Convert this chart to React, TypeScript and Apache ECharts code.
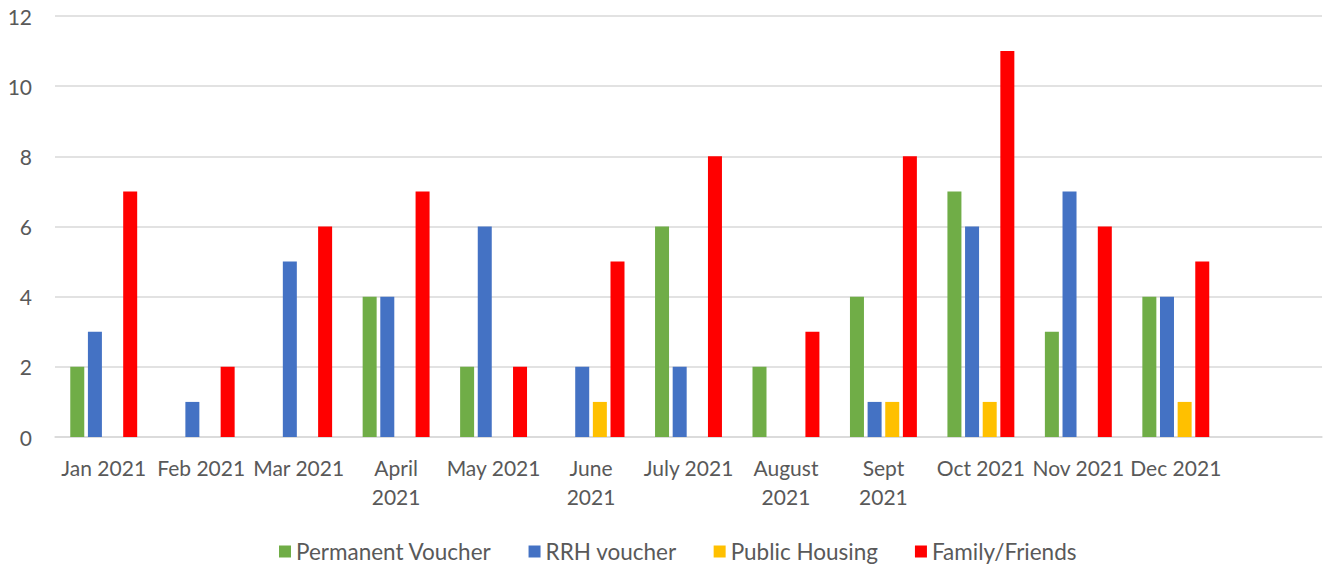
import React, { useEffect, useRef } from "react";
import * as echarts from "echarts";

const categories = [
  "Jan 2021", "Feb 2021", "Mar 2021", "April 2021", "May 2021", "June 2021",
  "July 2021", "August 2021", "Sept 2021", "Oct 2021", "Nov 2021", "Dec 2021", "",
];
const wrapped = ["April 2021", "June 2021", "August 2021", "Sept 2021"];

const permanentVoucher = [2, 0, 0, 4, 2, 0, 6, 2, 4, 7, 3, 4, null];
const rrhVoucher = [3, 1, 5, 4, 6, 2, 2, 0, 1, 6, 7, 4, null];
const publicHousing = [0, 0, 0, 0, 0, 1, 0, 0, 1, 1, 0, 1, null];
const familyFriends = [7, 2, 6, 7, 2, 5, 8, 3, 8, 11, 6, 5, null];

const yTicks = { min: 0, max: 12, interval: 2 };

const FONT = "Lato";
const TXT = "#595959";

export default function App() {
  const ref = useRef<HTMLDivElement>(null);
  useEffect(() => {
    if (!ref.current) return;
    const chart = echarts.init(ref.current, undefined, { renderer: "svg" });
    const mk = (name: string, data: (number | null)[], color: string) => ({
      name,
      type: "bar",
      data,
      barWidth: 14,
      barGap: "26%",
      itemStyle: { color },
    });
    chart.setOption({
      animation: false,
      textStyle: { fontFamily: FONT },
      grid: { left: 55, right: 2, top: 16, bottom: 130, containLabel: false },
      legend: {
        left: 274,
        top: 535,
        itemWidth: 12,
        itemHeight: 12,
        itemGap: 37,
        icon: "rect",
        textStyle: { color: TXT, fontSize: 22.5, fontFamily: FONT },
        data: ["Permanent Voucher", "RRH voucher", "Public Housing", "Family/Friends"],
      },
      xAxis: {
        type: "category",
        data: categories,
        axisLine: { show: true, lineStyle: { color: "#D9D9D9", width: 1.5 } },
        axisTick: { show: false },
        axisLabel: {
          color: TXT,
          fontSize: 21,
          fontFamily: FONT,
          margin: 16,
          lineHeight: 29,
          interval: 0,
          formatter: (v: string) => (wrapped.includes(v) ? v.replace(" ", "\n") : v),
        },
      },
      yAxis: {
        type: "value",
        min: yTicks.min,
        max: yTicks.max,
        interval: yTicks.interval,
        axisLine: { show: false },
        axisTick: { show: false },
        splitLine: { lineStyle: { color: "#D9D9D9", width: 1.5 } },
        axisLabel: { color: TXT, fontSize: 21, fontFamily: FONT, margin: 23 },
      },
      series: [
        mk("Permanent Voucher", permanentVoucher, "#70AD47"),
        mk("RRH voucher", rrhVoucher, "#4472C4"),
        mk("Public Housing", publicHousing, "#FFC000"),
        mk("Family/Friends", familyFriends, "#FF0000"),
      ],
    });
    return () => chart.dispose();
  }, []);
  return (
    <div
      ref={ref}
      style={{ position: "fixed", left: 0, top: 0, width: 1324, height: 567, background: "#fff" }}
    />
  );
}
